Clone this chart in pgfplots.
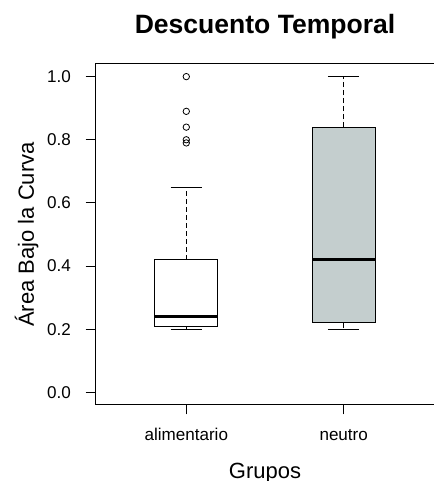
\documentclass[border=0pt]{standalone}
\usepackage{pgfplots}
\pgfplotsset{compat=1.18}
\usepgfplotslibrary{statistics}
\usepackage{fontspec}
\setmainfont{Liberation Sans}
\definecolor{boxfill}{RGB}{196,206,206}
\begin{document}
\begin{tikzpicture}
\path[use as bounding box] (0,0) rectangle (325.5pt,360.75pt);
\begin{axis}[
  at={(71.25pt,57pt)}, anchor=south west,
  scale only axis, width=255pt, height=255.75pt,
  xmin=0.42, xmax=2.58, ymin=-0.04, ymax=1.04,
  xtick={1,2}, xticklabels={alimentario,neutro},
  ytick={0,0.2,0.4,0.6,0.8,1.0},
  /pgf/number format/fixed, /pgf/number format/fixed zerofill, /pgf/number format/precision=1,
  /pgf/number format/assume math mode=true,
  yticklabel shift=7.5pt,
  tick align=outside, xtick pos=bottom, ytick pos=left,
  major tick length=7pt,
  tick style={black, line width=0.75pt},
  axis line style={line width=0.75pt},
  ticklabel style={font=\fontsize{12.8}{15}\selectfont},
  xticklabel style={anchor=base, yshift=-19.5pt},
  title={\textbf{Descuento Temporal}},
  title style={at={(axis description cs:0.5,1.067)}, anchor=base, font=\fontsize{19.9}{24}\selectfont},
  xlabel={Grupos},
  xlabel style={at={(axis description cs:0.5,-0.2141)}, anchor=base, font=\fontsize{16.5}{20}\selectfont},
  ylabel={Área Bajo la Curva},
  ylabel style={at={(axis description cs:-0.18,0.5)}, anchor=base, font=\fontsize{16.5}{20}\selectfont},
  boxplot/draw direction=y,
  boxplot/every median/.style={line width=2.25pt, black},
  boxplot/draw/lower whisker/.code={%
    \draw[line width=0.75pt, dash pattern=on 3.5pt off 2.5pt]
      (boxplot box cs:\pgfplotsboxplotvalue{lower quartile},0.5) --
      (boxplot box cs:\pgfplotsboxplotvalue{lower whisker},0.5);
    \draw[line width=0.75pt]
      (boxplot whisker cs:\pgfplotsboxplotvalue{lower whisker},0) --
      (boxplot whisker cs:\pgfplotsboxplotvalue{lower whisker},1);
  },
  boxplot/draw/upper whisker/.code={%
    \draw[line width=0.75pt, dash pattern=on 3.5pt off 2.5pt]
      (boxplot box cs:\pgfplotsboxplotvalue{upper quartile},0.5) --
      (boxplot box cs:\pgfplotsboxplotvalue{upper whisker},0.5);
    \draw[line width=0.75pt]
      (boxplot whisker cs:\pgfplotsboxplotvalue{upper whisker},0) --
      (boxplot whisker cs:\pgfplotsboxplotvalue{upper whisker},1);
  },
]
\addplot[boxplot prepared={draw position=1, lower whisker=0.20, lower quartile=0.21,
    median=0.24, upper quartile=0.42, upper whisker=0.65, box extend=0.4, whisker extend=0.2},
  draw=black, line width=0.75pt, fill=white, mark=o, mark size=2.4pt, mark options={solid, line width=0.6pt, fill=none}]
  table[row sep=\\, y index=0] {1.00\\0.89\\0.84\\0.80\\0.79\\};
\addplot[boxplot prepared={draw position=2, lower whisker=0.20, lower quartile=0.22,
    median=0.42, upper quartile=0.84, upper whisker=1.00, box extend=0.4, whisker extend=0.2},
  draw=black, line width=0.75pt, fill=boxfill, mark=o]
  coordinates {};
\end{axis}
\end{tikzpicture}
\end{document}
